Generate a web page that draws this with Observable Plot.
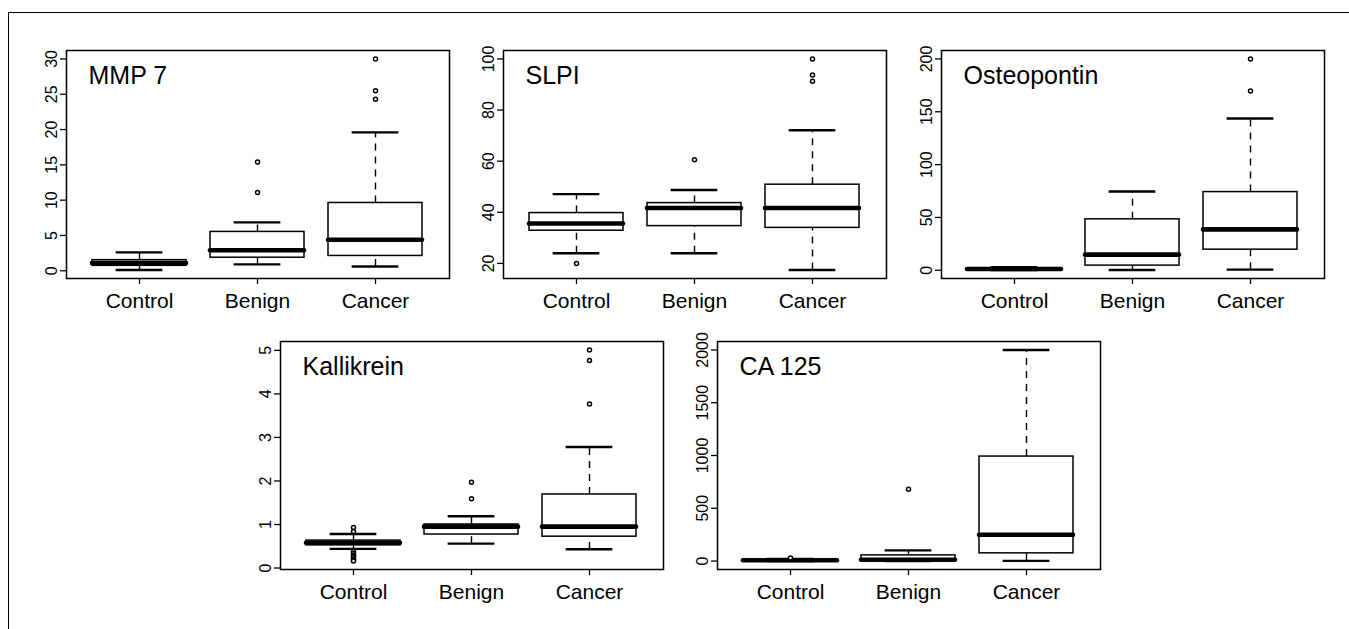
<!DOCTYPE html>
<html><head><meta charset="utf-8">
<script src="https://cdn.jsdelivr.net/npm/d3@7"></script>
<script src="https://cdn.jsdelivr.net/npm/@observablehq/plot@0.6"></script>
<style>
body{margin:0;background:#fff;}
#wrap{position:relative;width:1349px;height:629px;overflow:hidden;background:#fff;font-family:"Liberation Sans",Arial,sans-serif;}
#frame{position:absolute;left:8px;top:12px;right:-10px;bottom:-10px;border-top:1.5px solid #000;border-left:1.5px solid #000;}
.panel{position:absolute;}
</style></head><body><div id="wrap"><div id="frame"></div></div>
<script>
const categories = ["Control", "Benign", "Cancer"];
const titles = ["MMP 7", "SLPI", "Osteopontin", "Kallikrein", "CA 125"];

// [lower whisker, Q1, median, Q3, upper whisker] per category
const mmp7Stats = [[0.1, 0.7, 1.1, 1.5, 2.6], [0.9, 1.85, 2.9, 5.5, 6.85], [0.6, 2.1, 4.4, 9.6, 19.6]];
const mmp7Outliers = [[], [11.1, 15.4], [24.3, 25.5, 30]];
const mmp7Ticks = [0, 5, 10, 15, 20, 25, 30];

const slpiStats = [[24.0, 32.8, 35.6, 39.7, 47.1], [24.0, 34.6, 41.7, 43.6, 48.7], [17.4, 33.9, 41.7, 50.8, 72.1]];
const slpiOutliers = [[20], [60.6], [91.3, 93.7, 100]];
const slpiTicks = [20, 40, 60, 80, 100];

const osteoStats = [[0.2, 0.5, 1.2, 1.8, 3], [0.3, 4.4, 14.8, 48.2, 74.6], [0.6, 19.5, 38.7, 74, 143.6]];
const osteoOutliers = [[], [], [169.6, 200]];
const osteoTicks = [0, 50, 100, 150, 200];

const kallStats = [[0.44, 0.52, 0.58, 0.63, 0.78], [0.56, 0.77, 0.95, 1.0, 1.19], [0.43, 0.72, 0.95, 1.69, 2.78]];
const kallOutliers = [[0.93, 0.84, 0.38, 0.34, 0.30, 0.27, 0.24, 0.21, 0.18, 0.16], [1.59, 1.97], [3.77, 4.77, 5.01]];
const kallTicks = [0, 1, 2, 3, 4, 5];

const ca125Stats = [[0, 3, 7, 12, 20], [0, 5, 13, 54, 101], [2, 73, 249, 990, 2000]];
const ca125Outliers = [[28], [681], []];
const ca125Ticks = [0, 500, 1000, 1500, 2000];

const panels = [
  [titles[0], mmp7Stats, mmp7Outliers, mmp7Ticks],
  [titles[1], slpiStats, slpiOutliers, slpiTicks],
  [titles[2], osteoStats, osteoOutliers, osteoTicks],
  [titles[3], kallStats, kallOutliers, kallTicks],
  [titles[4], ca125Stats, ca125Outliers, ca125Ticks]
];
const layout = [{left: 66, top: 50}, {left: 503, top: 50}, {left: 941, top: 50}, {left: 280, top: 341}, {left: 717, top: 341}];

const W = 383, H = 228, ML = 60, MR = 6, MT = 6, MB = 50;
const FONT = '"Liberation Sans", Arial, Helvetica, sans-serif';

function panel(title, stats, outliers, ticks) {
  const rows = categories.map((c, i) => ({cat: c, lo: stats[i][0], q1: stats[i][1], med: stats[i][2], q3: stats[i][3], hi: stats[i][4]}));
  const outs = categories.flatMap((c, i) => outliers[i].map(v => ({cat: c, v})));
  const all = rows.flatMap(r => [r.lo, r.hi]).concat(outs.map(o => o.v));
  const mn = d3.min(all), mx = d3.max(all), pad = (mx - mn) * 0.04;
  const step = W / (categories.length - 0.2 + 0.44);
  const cap = step * 0.2;
  return Plot.plot({
    width: W + ML + MR, height: H + MT + MB,
    marginLeft: ML, marginRight: MR, marginTop: MT, marginBottom: MB,
    style: {fontFamily: FONT, background: "transparent", color: "#000", overflow: "visible"},
    x: {type: "band", domain: categories, paddingInner: 0.2, paddingOuter: 0.22, align: 0.5, label: null},
    y: {domain: [mn - pad, mx + pad], label: null},
    marks: [
      Plot.ruleX(rows, {x: "cat", y1: "q3", y2: "hi", stroke: "#000", strokeWidth: 1.4, strokeDasharray: "7,6"}),
      Plot.ruleX(rows, {x: "cat", y1: "lo", y2: "q1", stroke: "#000", strokeWidth: 1.4, strokeDasharray: "7,6"}),
      Plot.tickY(rows, {x: "cat", y: "hi", insetLeft: cap, insetRight: cap, stroke: "#000", strokeWidth: 2.4}),
      Plot.tickY(rows, {x: "cat", y: "lo", insetLeft: cap, insetRight: cap, stroke: "#000", strokeWidth: 2.4}),
      Plot.barY(rows, {x: "cat", y1: "q1", y2: "q3", fill: "#fff", stroke: "#000", strokeWidth: 1.5}),
      Plot.tickY(rows, {x: "cat", y: "med", stroke: "#000", strokeWidth: 4.6, strokeLinecap: "round"}),
      Plot.dot(outs, {x: "cat", y: "v", r: 2, stroke: "#000", fill: "#fff", strokeWidth: 1.5}),
      Plot.frame({stroke: "#000", strokeWidth: 1.5}),
      Plot.axisX({tickSize: 6, tickPadding: 9, fontSize: 21, label: null, stroke: "#000", strokeWidth: 1.3}),
      Plot.axisY({ticks, tickSize: 6, tickFormat: () => "", label: null, stroke: "#000", strokeWidth: 1.3}),
      Plot.text(ticks, {y: d => d, text: d => String(d), frameAnchor: "left", dx: -15, rotate: -90, textAnchor: "middle", lineAnchor: "middle", fontSize: 16, fill: "#000"}),
      Plot.text([title], {frameAnchor: "top-left", dx: 22, dy: 25, textAnchor: "start", lineAnchor: "middle", fontSize: 25, fill: "#000"})
    ]
  });
}

const wrap = document.getElementById("wrap");
panels.forEach((p, i) => {
  const svg = panel(...p);
  svg.classList.add("panel");
  svg.style.left = (layout[i].left - ML) + "px";
  svg.style.top = (layout[i].top - MT) + "px";
  wrap.appendChild(svg);
});
</script></body></html>
